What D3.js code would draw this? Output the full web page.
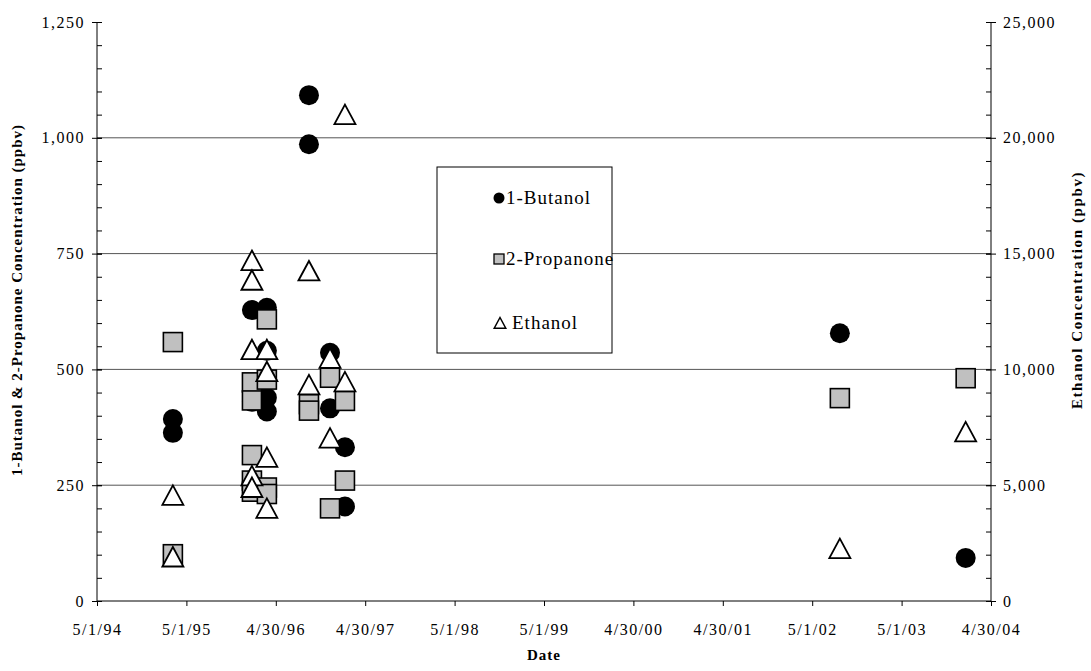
<!DOCTYPE html>
<html>
<head>
<meta charset="utf-8">
<script src="https://cdn.jsdelivr.net/npm/d3@7"></script>
<style>
  body { margin: 0; background: #fff; }
  text { font-family: "Liberation Serif", "Times New Roman", serif; fill: #000; }
  .tick text { font-size: 16px; letter-spacing: 1.5px; }
  .title { font-size: 15px; font-weight: bold; letter-spacing: 1px; }
  .legend text { font-size: 19px; letter-spacing: 1px; }
</style>
</head>
<body>
<svg id="chart" width="1091" height="671"></svg>
<script>
// sampling dates and values
const butanolDates = ["1995-03-07", "1995-03-07", "1996-01-24", "1996-01-24",
  "1996-03-25", "1996-03-25", "1996-03-25", "1996-03-25", "1996-09-13", "1996-09-13",
  "1996-12-08", "1996-12-08", "1997-02-07", "1997-02-07", "2002-08-22", "2004-01-18"];
const butanolValues = [393, 363, 628, 430, 633, 540, 439, 409, 1092, 986, 536, 416, 332, 204, 578, 93];

const propanoneDates = ["1995-03-07", "1995-03-07", "1996-01-24", "1996-01-24", "1996-01-24",
  "1996-01-24", "1996-01-24", "1996-03-25", "1996-03-25", "1996-03-25", "1996-03-25",
  "1996-09-13", "1996-09-13", "1996-12-08", "1996-12-08", "1997-02-07", "1997-02-07",
  "2002-08-22", "2004-01-18"];
const propanoneValues = [559, 101, 472, 433, 315, 260, 236, 608, 478, 245, 231, 425, 411, 482, 200, 432, 260, 438, 481];

const ethanolDates = ["1995-03-07", "1995-03-07", "1996-01-24", "1996-01-24", "1996-01-24",
  "1996-01-24", "1996-01-24", "1996-03-25", "1996-03-25", "1996-03-25", "1996-03-25",
  "1996-09-13", "1996-09-13", "1996-12-08", "1996-12-08", "1997-02-07", "1997-02-07",
  "2002-08-22", "2004-01-18"];
const ethanolValues = [4560, 1900, 14700, 13850, 10850, 5400, 4900, 10850, 9900, 6200, 4000,
  14250, 9330, 10480, 7030, 21000, 9460, 2260, 7300];

// axis settings
const leftTicks = [0, 250, 500, 750, 1000, 1250];
const rightTicks = [0, 5000, 10000, 15000, 20000, 25000];
const xStart = "1994-05-01";
const xStepDays = 365.25; // excel major unit
const xTickCount = 11;

const legendLabels = ["1-Butanol", "2-Propanone", "Ethanol"];

const svg = d3.select("#chart");
const margin = { top: 22, left: 97, right: 100, bottom: 70 };
const width = 1091 - margin.left - margin.right;
const height = 671 - margin.top - margin.bottom;
const g = svg.append("g").attr("transform", `translate(${margin.left},${margin.top})`);

const parse = d3.utcParse("%Y-%m-%d");
const t0 = parse(xStart).getTime();
const xTickDates = d3.range(xTickCount).map(k => new Date(t0 + k * xStepDays * 864e5));

const x = d3.scaleUtc()
  .domain([xTickDates[0], xTickDates[xTickCount - 1]])
  .range([0, width]);
const yL = d3.scaleLinear().domain([0, 1250]).range([height, 0]);
const yR = d3.scaleLinear().domain([0, 25000]).range([height, 0]);

// M/D/YY like excel, using the floored day
const fmtDate = d => {
  const f = new Date(Math.floor(d.getTime() / 864e5) * 864e5);
  return `${f.getUTCMonth() + 1}/${f.getUTCDate()}/${String(f.getUTCFullYear()).slice(2)}`;
};

// gridlines
g.append("g")
  .selectAll("line")
  .data(leftTicks.filter(d => d > 0 && d < 1250))
  .join("line")
  .attr("x1", 0).attr("x2", width)
  .attr("y1", d => yL(d)).attr("y2", d => yL(d))
  .attr("stroke", "#555").attr("stroke-width", 1);

// left axis: minor ticks inside, major crossing
g.append("g")
  .call(d3.axisLeft(yL).tickValues(d3.range(0, 1251, 50)).tickSize(-5).tickFormat(""))
  .call(s => s.select(".domain").remove());
g.append("g")
  .call(d3.axisLeft(yL).tickValues(leftTicks).tickSize(5).tickPadding(7).tickFormat(d3.format(",")))
  .call(s => s.selectAll(".tick line").attr("x2", 5).attr("x1", -5))
  .call(s => s.select(".domain").attr("d", `M0,0V${height}`));

// right axis
const gr = g.append("g").attr("transform", `translate(${width},0)`);
gr.append("g")
  .call(d3.axisRight(yR).tickValues(d3.range(0, 25001, 1000)).tickSize(-5).tickFormat(""))
  .call(s => s.select(".domain").remove());
gr.append("g")
  .call(d3.axisRight(yR).tickValues(rightTicks).tickSize(5).tickPadding(7).tickFormat(d3.format(",")))
  .call(s => s.selectAll(".tick line").attr("x1", -5).attr("x2", 5))
  .call(s => s.select(".domain").attr("d", `M0,0V${height}`));

// x axis
g.append("g")
  .attr("transform", `translate(0,${height})`)
  .call(d3.axisBottom(x).tickValues(xTickDates).tickSize(5).tickPadding(18).tickFormat(fmtDate))
  .call(s => s.select(".domain").attr("d", `M0,0H${width}`));

g.selectAll(".tick line, .domain").attr("stroke", "#000");

// marker shapes
const triPath = s => `M0,${-s}L${s * 1.05},${s * 0.95}L${-s * 1.05},${s * 0.95}Z`;

const butanol = butanolDates.map((d, i) => ({ date: parse(d), val: butanolValues[i] }));
const propanone = propanoneDates.map((d, i) => ({ date: parse(d), val: propanoneValues[i] }));
const ethanol = ethanolDates.map((d, i) => ({ date: parse(d), val: ethanolValues[i] }));

g.append("g").selectAll("circle")
  .data(butanol).join("circle")
  .attr("cx", d => x(d.date)).attr("cy", d => yL(d.val))
  .attr("r", 10).attr("fill", "#000");

g.append("g").selectAll("rect")
  .data(propanone).join("rect")
  .attr("x", d => x(d.date) - 9.5).attr("y", d => yL(d.val) - 9.5)
  .attr("width", 19).attr("height", 19)
  .attr("fill", "#c0c0c0").attr("stroke", "#000").attr("stroke-width", 1.6);

g.append("g").selectAll("path")
  .data(ethanol).join("path")
  .attr("transform", d => `translate(${x(d.date)},${yR(d.val)})`)
  .attr("d", triPath(10))
  .attr("fill", "#fff").attr("stroke", "#000").attr("stroke-width", 1.8);

// legend box
const leg = svg.append("g").attr("class", "legend").attr("transform", "translate(437,167)");
leg.append("rect").attr("width", 175).attr("height", 186)
  .attr("fill", "#fff").attr("stroke", "#000").attr("stroke-width", 1);
const legY = [31, 92, 156];
leg.append("circle").attr("cx", 62).attr("cy", legY[0]).attr("r", 5.5).attr("fill", "#000");
leg.append("rect").attr("x", 57).attr("y", legY[1] - 5).attr("width", 10).attr("height", 10)
  .attr("fill", "#c0c0c0").attr("stroke", "#000").attr("stroke-width", 1.3);
leg.append("path").attr("transform", `translate(63,${legY[2]})`).attr("d", triPath(5.5))
  .attr("fill", "#fff").attr("stroke", "#000").attr("stroke-width", 1.5);
leg.selectAll("text.lab")
  .data(legendLabels).join("text")
  .attr("x", (d, i) => i === 2 ? 75 : 69)
  .attr("y", (d, i) => legY[i] + 6)
  .text(d => d);

// axis titles
svg.append("text").attr("class", "title")
  .attr("transform", "translate(22,300) rotate(-90)")
  .attr("text-anchor", "middle")
  .text("1-Butanol & 2-Propanone Concentration (ppbv)");
svg.append("text").attr("class", "title")
  .attr("transform", "translate(1082,290) rotate(-90)")
  .attr("text-anchor", "middle")
  .style("letter-spacing", "1.6px")
  .text("Ethanol Concentration (ppbv)");
svg.append("text").attr("class", "title")
  .attr("x", 544).attr("y", 660)
  .attr("text-anchor", "middle")
  .text("Date");
</script>
</body>
</html>
